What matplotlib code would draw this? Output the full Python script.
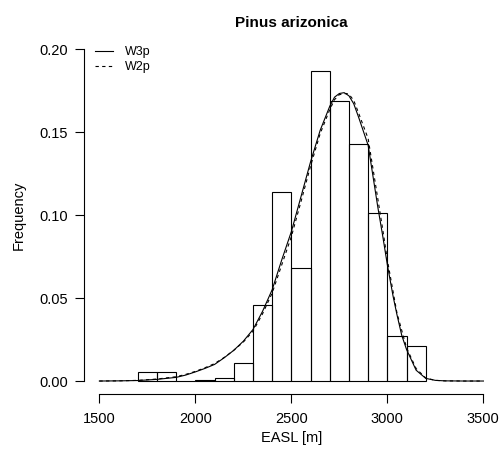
import numpy as np
import matplotlib
matplotlib.use("Agg")
import matplotlib.pyplot as plt

plt.rcParams["font.family"] = ["Liberation Sans", "DejaVu Sans"]

# Histograma (ancho de clase 100 m)
bin_left = [1700, 1800, 1900, 2000, 2100, 2200, 2300, 2400, 2500, 2600,
            2700, 2800, 2900, 3000, 3100]
freq = [0.0055, 0.0055, 0.0, 0.0006, 0.0020, 0.0108, 0.0460, 0.1140,
        0.0680, 0.1870, 0.1687, 0.1430, 0.1014, 0.0269, 0.0213]

# Curvas ajustadas
w3p_x = [1500, 1600, 1700, 1800, 1900, 1950, 2000, 2050, 2100, 2150, 2200,
         2250, 2300, 2350, 2400, 2450, 2500, 2550, 2600, 2650, 2700, 2725,
         2750, 2775, 2800, 2825, 2850, 2900, 2950, 2975, 3000, 3030, 3050,
         3075, 3100, 3150, 3200, 3250, 3300, 3400, 3500]
w3p_y = [0.0000, 0.0001, 0.0003, 0.0010, 0.0022, 0.0036, 0.0055, 0.0076,
         0.0100, 0.0140, 0.0185, 0.0240, 0.0310, 0.0420, 0.0550, 0.0730,
         0.0900, 0.1110, 0.1320, 0.1510, 0.1655, 0.1710, 0.1732, 0.1737,
         0.1718, 0.1670, 0.1590, 0.1420, 0.1050, 0.0880, 0.0700, 0.0510,
         0.0400, 0.0275, 0.0190, 0.0065, 0.0016, 0.0004, 0.0001, 0.0000,
         0.0000]

w2p_x = [1500, 1600, 1700, 1800, 1900, 1950, 2000, 2050, 2100, 2150, 2200,
         2250, 2300, 2350, 2400, 2450, 2500, 2550, 2600, 2650, 2700, 2725,
         2750, 2785, 2800, 2825, 2850, 2900, 2950, 2975, 3000, 3050, 3100,
         3150, 3200, 3250, 3300, 3400, 3500]
w2p_y = [0.0000, 0.0001, 0.0004, 0.0012, 0.0026, 0.0040, 0.0058, 0.0080,
         0.0105, 0.0142, 0.0185, 0.0235, 0.0300, 0.0405, 0.0530, 0.0700,
         0.0870, 0.1080, 0.1295, 0.1490, 0.1635, 0.1695, 0.1725, 0.1732,
         0.1728, 0.1690, 0.1615, 0.1460, 0.1100, 0.0920, 0.0730, 0.0410,
         0.0200, 0.0075, 0.0018, 0.0004, 0.0001, 0.0000, 0.0000]

fig = plt.figure(figsize=(5.01, 4.51), dpi=100)
ax = fig.add_axes([0.1677, 0.1257, 0.8277, 0.7951])

ax.bar(bin_left, freq, width=100, align="edge", fill=False,
       edgecolor="black", linewidth=0.8)
ax.plot(w3p_x, w3p_y, color="black", linewidth=0.8, label="W3p")
ax.plot(w2p_x, w2p_y, color="black", linewidth=0.8, linestyle=(0, (3, 3)),
        label="W2p")

ax.set_xlim(1420, 3580)
ax.set_ylim(-0.008, 0.208)
ax.set_xticks([1500, 2000, 2500, 3000, 3500])
ax.set_yticks([0.0, 0.05, 0.10, 0.15, 0.20])
ax.set_yticklabels(["0.00", "0.05", "0.10", "0.15", "0.20"])

# Ejes estilo R
for s in ["top", "right"]:
    ax.spines[s].set_visible(False)
ax.spines["left"].set_bounds(0, 0.20)
ax.spines["bottom"].set_bounds(1500, 3500)
ax.spines["left"].set_linewidth(0.8)
ax.spines["bottom"].set_linewidth(0.8)
ax.tick_params(axis="both", direction="out", length=6.5, width=0.8,
               labelsize=10.5)
ax.tick_params(axis="y", pad=5)
ax.tick_params(axis="x", pad=6)

ax.set_title("Pinus arizonica", fontsize=11, fontweight="bold", pad=6)
ax.set_xlabel("EASL [m]", fontsize=10.5, labelpad=4)
ax.set_ylabel("Frequency", fontsize=10.5, labelpad=10)

ax.legend(loc="upper left", bbox_to_anchor=(0.012, 0.989), frameon=False,
          fontsize=9, handlelength=1.45, handletextpad=0.9, labelspacing=0.25,
          borderpad=0)

fig.savefig("out.png", dpi=100)
